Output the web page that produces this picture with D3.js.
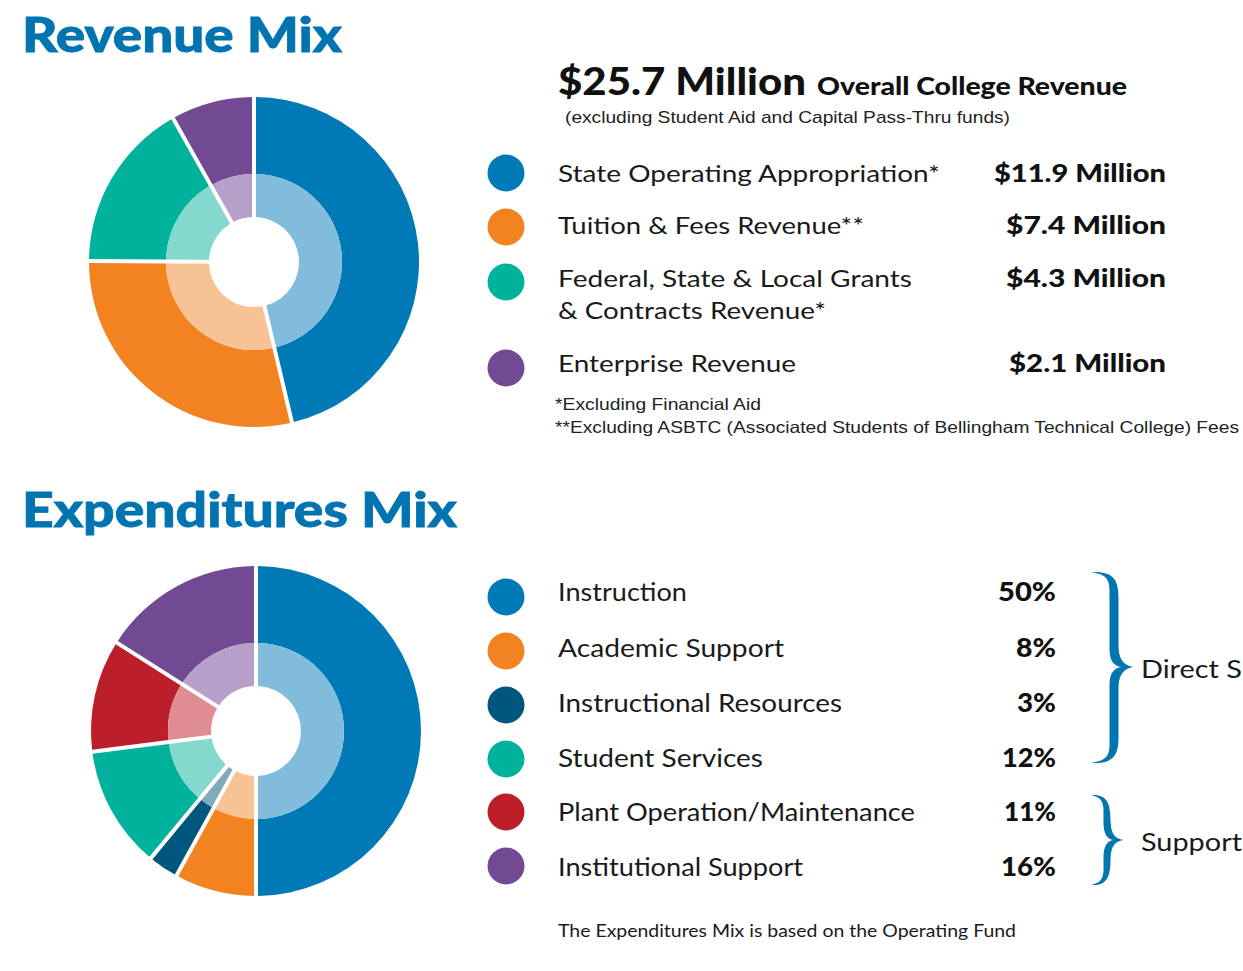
<!DOCTYPE html>
<html><head><meta charset="utf-8">
<script src="https://cdn.jsdelivr.net/npm/d3@7"></script>
<style>
html,body{margin:0;padding:0;background:#fff;}
svg{display:block;}
</style></head>
<body>
<svg id="chart" width="1243" height="971"></svg>
<script>
// ---------- DATA ----------
const revenueCategories = ["State Operating Appropriation*", "Tuition & Fees Revenue**", "Federal, State & Local Grants\n& Contracts Revenue*", "Enterprise Revenue"];
const revenueValues = [11.9, 7.4, 4.3, 2.1];
const revenueLabels = ["$11.9 Million", "$7.4 Million", "$4.3 Million", "$2.1 Million"];
const revenueColors = ["#0079b7", "#f38321", "#00b19c", "#714a93"];
const revenueLight  = ["#82bcdc", "#f8c394", "#84d8cd", "#b6a0c9"];

const expCategories = ["Instruction", "Academic Support", "Instructional Resources", "Student Services", "Plant Operation/Maintenance", "Institutional Support"];
const expValues = [50, 8, 3, 12, 11, 16];
const expLabels = ["50%", "8%", "3%", "12%", "11%", "16%"];
const expColors = ["#0079b7", "#f38321", "#01567e", "#00b19c", "#bd1f2a", "#714a93"];
const expLight  = ["#82bcdc", "#f8c394", "#80a9be", "#84d8cd", "#df8d92", "#b6a0c9"];

const svg = d3.select("#chart");
const TITLE = "#0074b0";
const sans = "Lato, 'Open Sans', sans-serif";
const helv = "'Liberation Sans', Arial, sans-serif";

function fit(sel, w){ // stretch text to target width
  sel.attr("textLength", w).attr("lengthAdjust", "spacingAndGlyphs");
}

// ---------- DONUT ----------
function donut(cx, cy, values, colors, light){
  const pie = d3.pie().sort(null).value(d => d)(values);
  const g = svg.append("g").attr("transform", `translate(${cx},${cy})`);
  const outer = d3.arc().innerRadius(88).outerRadius(165).padAngle(4/165).padRadius(165);
  const inner = d3.arc().innerRadius(45).outerRadius(88).padAngle(4/165).padRadius(165);
  g.selectAll("path.o").data(pie).join("path").attr("class","o")
    .attr("d", outer).attr("fill", (d,i) => colors[i]);
  g.selectAll("path.i").data(pie).join("path").attr("class","i")
    .attr("d", inner).attr("fill", (d,i) => light[i]);
}

donut(254, 262, revenueValues, revenueColors, revenueLight);
donut(256, 731, expValues, expColors, expLight);

// ---------- TITLES ----------
svg.append("text").attr("x", 22).attr("y", 52).text("Revenue Mix")
  .attr("font-family", sans).attr("font-weight", 900).attr("font-size", 48).attr("fill", TITLE)
  .attr("stroke", TITLE).attr("stroke-width", 0.8)
  .call(fit, 320);
svg.append("text").attr("x", 22).attr("y", 527).text("Expenditures Mix")
  .attr("font-family", sans).attr("font-weight", 900).attr("font-size", 48).attr("fill", TITLE)
  .attr("stroke", TITLE).attr("stroke-width", 0.8)
  .call(fit, 435);

// ---------- REVENUE HEADER ----------
svg.append("text").attr("x", 558).attr("y", 95).text("$25.7 Million")
  .attr("font-family", sans).attr("font-weight", 900).attr("font-size", 37).attr("fill", "#111")
  .call(fit, 248);
svg.append("text").attr("x", 817).attr("y", 95).text("Overall College Revenue")
  .attr("font-family", sans).attr("font-weight", 900).attr("font-size", 24).attr("fill", "#111")
  .call(fit, 310);
svg.append("text").attr("x", 565).attr("y", 123).text("(excluding Student Aid and Capital Pass-Thru funds)")
  .attr("font-family", helv).attr("font-size", 17).attr("fill", "#222")
  .call(fit, 445);

// ---------- REVENUE LEGEND ----------
const revCircleY = [173, 227, 282, 368];
const revBase = [182, 234, 287, 372];
const revLabelW = [382, 306, 354, 238];
const revValW = [172, 160, 160, 157];
revenueCategories.forEach((c, i) => {
  svg.append("circle").attr("cx", 506).attr("cy", revCircleY[i]).attr("r", 18.5).attr("fill", revenueColors[i]);
  const lines = c.split("\n");
  lines.forEach((ln, j) => {
    const t = svg.append("text").attr("x", 558).attr("y", revBase[i] + j*32).text(ln)
      .attr("font-family", sans).attr("font-size", 24).attr("fill", "#1a1a1a");
    if (j === 0) t.call(fit, revLabelW[i]); else t.call(fit, 268);
  });
  svg.append("text").attr("x", 1166 - revValW[i]).attr("y", revBase[i]).text(revenueLabels[i])
    .attr("font-family", sans).attr("font-weight", 900).attr("font-size", 25).attr("fill", "#111")
    .call(fit, revValW[i]);
});

svg.append("text").attr("x", 555).attr("y", 410).text("*Excluding Financial Aid")
  .attr("font-family", helv).attr("font-size", 16.5).attr("fill", "#222").call(fit, 206);
svg.append("text").attr("x", 555).attr("y", 433).text("**Excluding ASBTC (Associated Students of Bellingham Technical College) Fees")
  .attr("font-family", helv).attr("font-size", 16.5).attr("fill", "#222").call(fit, 684);

// ---------- EXPENDITURE LEGEND ----------
const expCircleY = [597, 651, 705, 759, 812, 866];
const expBase = [601, 657, 712, 767, 821, 876];
const expLabelW = [129, 226, 284, 205, 357, 245];
const expValW = [58, 40, 39, 54, 52, 55];
expCategories.forEach((c, i) => {
  svg.append("circle").attr("cx", 506).attr("cy", expCircleY[i]).attr("r", 18.5).attr("fill", expColors[i]);
  svg.append("text").attr("x", 558).attr("y", expBase[i]).text(c)
    .attr("font-family", sans).attr("font-size", 25).attr("fill", "#1a1a1a").call(fit, expLabelW[i]);
  svg.append("text").attr("x", 1056 - expValW[i]).attr("y", expBase[i]).text(expLabels[i])
    .attr("font-family", sans).attr("font-weight", 900).attr("font-size", 26).attr("fill", "#111")
    .call(fit, expValW[i]);
});

// ---------- BRACES ----------
function brace(x0, xs, xp, y0, ym, y1, w){
  const p = d3.path();
  p.moveTo(x0, y0);
  p.bezierCurveTo(xs, y0 - 1, xs + w, y0 + 8, xs + w, y0 + 26);
  p.lineTo(xs + w, ym - 22);
  p.bezierCurveTo(xs + w, ym - 8, xp - 10, ym - 2, xp, ym);
  p.bezierCurveTo(xp - 10, ym + 2, xs + w, ym + 8, xs + w, ym + 22);
  p.lineTo(xs + w, y1 - 26);
  p.bezierCurveTo(xs + w, y1 - 8, xs, y1 + 1, x0, y1);
  p.bezierCurveTo(xs - w + 2, y1 - 3, xs - w, y1 - 12, xs - w, y1 - 26);
  p.lineTo(xs - w, ym + 18);
  p.bezierCurveTo(xs - w, ym + 6, xs, ym + 1, xs + w + 3, ym);
  p.bezierCurveTo(xs, ym - 1, xs - w, ym - 6, xs - w, ym - 18);
  p.lineTo(xs - w, y0 + 26);
  p.bezierCurveTo(xs - w, y0 + 12, xs - w + 2, y0 + 3, x0, y0);
  p.closePath();
  return p.toString();
}
svg.append("path").attr("d", brace(1091, 1114, 1133, 572, 667, 763, 4.5)).attr("fill", "#0075b0");
svg.append("path").attr("d", brace(1091, 1107, 1123, 795, 840, 885, 3.5)).attr("fill", "#0075b0");

svg.append("text").attr("x", 1141).attr("y", 678).text("Direct S")
  .attr("font-family", sans).attr("font-size", 25).attr("fill", "#1a1a1a").call(fit, 101);
svg.append("text").attr("x", 1141).attr("y", 851).text("Support")
  .attr("font-family", sans).attr("font-size", 25).attr("fill", "#1a1a1a").call(fit, 101);

svg.append("text").attr("x", 558).attr("y", 937).text("The Expenditures Mix is based on the Operating Fund")
  .attr("font-family", sans).attr("font-size", 17).attr("fill", "#1a1a1a").call(fit, 458);
</script>
</body></html>
